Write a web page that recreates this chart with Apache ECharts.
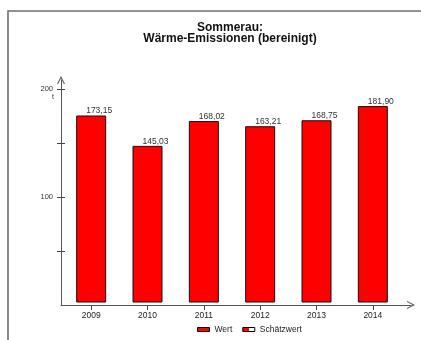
<!DOCTYPE html>
<html><head><meta charset="utf-8">
<script src="https://cdn.jsdelivr.net/npm/echarts@6/dist/echarts.min.js"></script>
<style>html,body{margin:0;padding:0;background:#fff}#c{width:421px;height:340px}</style>
</head><body><div id="c"></div>
<script>
const categories = ['2009','2010','2011','2012','2013','2014'];
const wert = [173.15, 145.03, 168.02, 163.21, 168.75, 181.90];
const schaetzwert = [];
const yTicks = [50, 100, 150, 200];
const yLabels = [100, 200];
const titleLines = ['Sommerau:', 'Wärme-Emissionen (bereinigt)'];
const unit = 't';

const chevron = 'path://M0,10 L5,0 L10,10 L8.6,10 L5,2.8 L1.4,10 Z';
const fmt = v => v.toFixed(2).replace('.', ',');
const font = 'Liberation Sans, Arial, sans-serif';

const chart = echarts.init(document.getElementById('c'), null, {renderer: 'canvas'});
chart.setOption({
  animation: false,
  textStyle: {fontFamily: font},
  title: {
    text: titleLines.join('\n'),
    left: 225, top: 17, textAlign: 'center',
    textStyle: {fontSize: 12, fontWeight: 'bold', color: '#111', lineHeight: 11, fontFamily: font}
  },
  graphic: [
    {type: 'rect', shape: {x: 8, y: 11, width: 440, height: 360}, style: {fill: 'none', stroke: '#6e6e6e', lineWidth: 1.6}, silent: true},
    {type: 'text', x: 52, y: 94, style: {text: unit, fontSize: 7, fill: '#333', fontFamily: font}}
  ],
  legend: {
    left: 192, top: 320, itemWidth: 12, itemHeight: 4, itemGap: 10,
    textStyle: {fontSize: 8.5, color: '#222', fontFamily: font},
    data: [
      {name: 'Wert', icon: 'rect', itemStyle: {color: '#ff0000', borderColor: '#000', borderWidth: 1}},
      {name: 'Schätzwert', icon: 'rect', itemStyle: {
        color: {type: 'linear', x: 0, y: 0, x2: 1, y2: 0, colorStops: [
          {offset: 0, color: '#ff0000'}, {offset: 0.5, color: '#ff0000'},
          {offset: 0.5, color: '#ffffff'}, {offset: 1, color: '#ffffff'}]},
        borderColor: '#000', borderWidth: 1}}
    ]
  },
  grid: [
    {left: 63, right: 20, top: 89, bottom: 35},
    {left: 61, right: 10, top: 80, bottom: 35}
  ],
  xAxis: [
    {type: 'category', gridIndex: 0, data: categories,
     axisLine: {show: false},
     axisTick: {show: true, alignWithLabel: true, length: 5, lineStyle: {color: '#444'}},
     axisLabel: {fontSize: 8.5, color: '#222', margin: 6}},
    {type: 'value', gridIndex: 1, min: 0, max: 1, show: true,
     axisLine: {show: true, symbol: ['none', chevron], symbolSize: [8, 8], lineStyle: {color: '#555', width: 1}},
     axisTick: {show: false}, axisLabel: {show: false}, splitLine: {show: false}}
  ],
  yAxis: [
    {type: 'value', gridIndex: 0, min: 0, max: 200, position: 'left', offset: -2,
     axisLine: {show: false},
     axisTick: {show: true, length: 8, customValues: yTicks, lineStyle: {color: '#444'}},
     axisLabel: {customValues: yLabels, fontSize: 7.5, color: '#333', margin: 12},
     splitLine: {show: false}},
    {type: 'value', gridIndex: 0, min: -2.3, max: 197.7, show: false},
    {type: 'value', gridIndex: 1, min: 0, max: 1, show: true,
     axisLine: {show: true, symbol: ['none', chevron], symbolSize: [8, 8], lineStyle: {color: '#555', width: 1}},
     axisTick: {show: false}, axisLabel: {show: false}, splitLine: {show: false}}
  ],
  series: [
    {name: 'Wert', type: 'bar', xAxisIndex: 0, yAxisIndex: 1, data: wert, barWidth: 30, barGap: '-100%',
     itemStyle: {color: '#ff0000', borderColor: '#111', borderWidth: 1},
     label: {show: true, position: 'top', distance: 0, offset: [8, 0], formatter: p => fmt(p.value),
             fontSize: 8.5, color: '#333', fontFamily: font}},
    {name: 'Schätzwert', type: 'bar', xAxisIndex: 0, yAxisIndex: 1, data: schaetzwert, barWidth: 30, barGap: '-100%',
     itemStyle: {color: '#ffffff', borderColor: '#111', borderWidth: 1}}
  ]
});
</script></body></html>
